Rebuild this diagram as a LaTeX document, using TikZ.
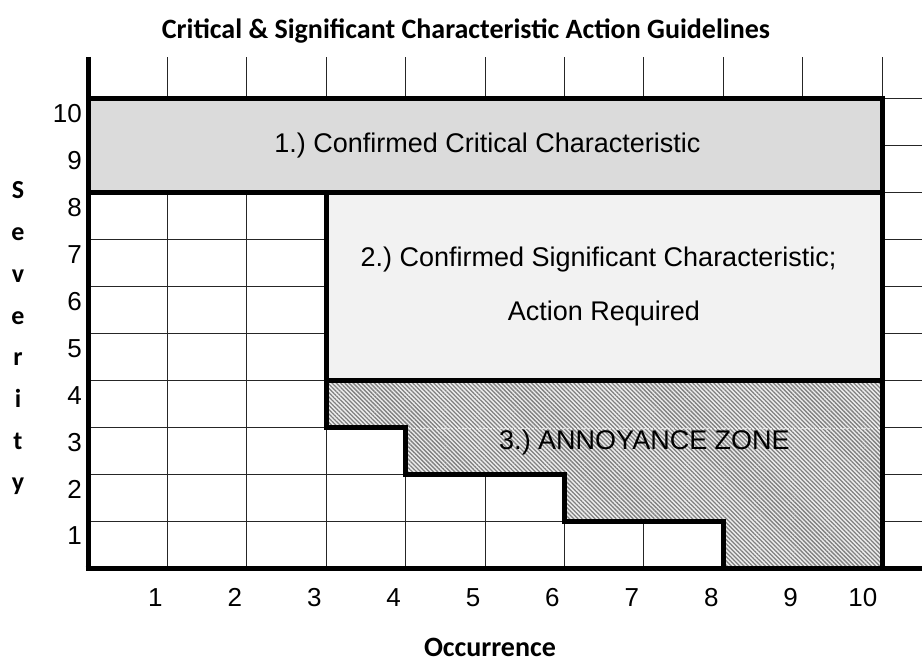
\documentclass[tikz,border=0pt]{standalone}
\usepackage{fontspec}
\setmainfont{Liberation Sans}
\newfontfamily\headfont{Carlito}
\usetikzlibrary{patterns.meta}

\definecolor{zoneone}{gray}{0.86}
\definecolor{zonetwo}{gray}{0.95}
\definecolor{zonethreebg}{gray}{0.93}
\definecolor{zonethreeln}{gray}{0.50}

\begin{document}
\frenchspacing
\begin{tikzpicture}[x=1pt,y=1pt,
  thinline/.style={line width=1pt, black!85},
  thickline/.style={line width=5pt, line join=miter},
  zonetext/.style={font=\fontsize{27}{32}\selectfont, inner sep=0pt, anchor=base},
  ticklabel/.style={font=\fontsize{26}{30}\selectfont, inner sep=0pt, anchor=east},
  axislabel/.style={font=\headfont\bfseries\fontsize{28}{32}\selectfont, inner sep=0pt, anchor=base},
  sevletter/.style={font=\headfont\bfseries\fontsize{26}{30}\selectfont, inner sep=0pt, anchor=base},
]
\useasboundingbox (0,0) rectangle (922,662);

% grid geometry: column i at x = 88 + 79.4 i, row j at y = 93 + 47 j
\def\cw{79.4}
\def\rh{47}
\foreach \i in {0,...,10} \coordinate (c\i) at ({88+\cw*\i},0);
\foreach \j in {0,...,10} \coordinate (r\j) at (0,{93+\rh*\j});

% thin grid lines inside the chart
\foreach \j in {1,...,7} \draw[thinline] (c0 |- r\j) -- (c10 |- r\j);
\foreach \i in {1,...,9} \draw[thinline] (c\i |- r0) -- (c\i |- r8);

% stubs above and to the right of the chart
\coordinate (topedge) at (0,605);
\coordinate (rightedge) at (922,0);
\foreach \i in {1,...,10} \draw[thinline] (c\i |- r10) -- (c\i |- topedge);
\foreach \j in {1,...,10} \draw[thinline] (c10 |- r\j) -- (rightedge |- r\j);

% zone 1: severity 9-10
\fill[zoneone] (c0 |- r8) rectangle (c10 |- r10);
% zone 2: severity 5-8, occurrence 4-10
\fill[zonetwo] (c3 |- r4) rectangle (c10 |- r8);
% zone 3: annoyance staircase
\path[preaction={fill=zonethreebg},
      pattern={Lines[angle=-45, distance=3pt, line width=1.3pt]},
      pattern color=zonethreeln]
  (c3 |- r4) -- (c10 |- r4) -- (c10 |- r0) -- (c8 |- r0) -- (c8 |- r1)
  -- (c6 |- r1) -- (c6 |- r2) -- (c4 |- r2) -- (c4 |- r3) -- (c3 |- r3) -- cycle;
\draw[white, line width=0.6pt, opacity=0.7, dash pattern=on 2pt off 1.5pt]
  (c4 |- r3) -- (c10 |- r3);

% zone borders
\draw[thickline] (c0 |- r8) rectangle (c10 |- r10);
\draw[thickline] (c3 |- r4) rectangle (c10 |- r8);
\draw[thickline] (c3 |- r4) -- (c10 |- r4) -- (c10 |- r0)
  (c8 |- r0) -- (c8 |- r1) -- (c6 |- r1) -- (c6 |- r2) -- (c4 |- r2)
  -- (c4 |- r3) -- (c3 |- r3) -- (c3 |- r4);

% axes
\draw[thickline] (c0 |- topedge) -- ([yshift=-2.5pt]c0 |- r0);
\draw[thickline] ([xshift=-2.5pt]c0 |- r0) -- (rightedge |- r0);

% zone labels
\node[zonetext] (z1) at (487.5,509) {1.) Confirmed Critical Characteristic};
\node[zonetext] (z2a) at (598.5,395) {2.) Confirmed Significant Characteristic;};
\node[zonetext] (z2b) at (604,341) {Action Required};
\node[zonetext] (z3) at (644.5,212) {3.) ANNOYANCE ZONE};

% severity scale
\foreach \j in {1,...,10}
  \node[ticklabel] (sev\j) at (82,{126+46.9*(\j-1)}) {\j};
% occurrence scale
\foreach \i in {1,...,10}
  \node[ticklabel] (occ\i) at ({88+\cw*\i-4.5},64.5) {\i};

% axis titles
\node[axislabel] (title) at (466,623) {Critical \& Significant Characteristic Action Guidelines};
\node[axislabel] (xlabel) at (490,5.5) {Occurrence};
\foreach \ch [count=\k from 0] in {S,e,v,e,r,i,t,y}
  \node[sevletter] (yl\k) at (18,{662-199-41.7*\k}) {\ch};
\end{tikzpicture}
\end{document}
